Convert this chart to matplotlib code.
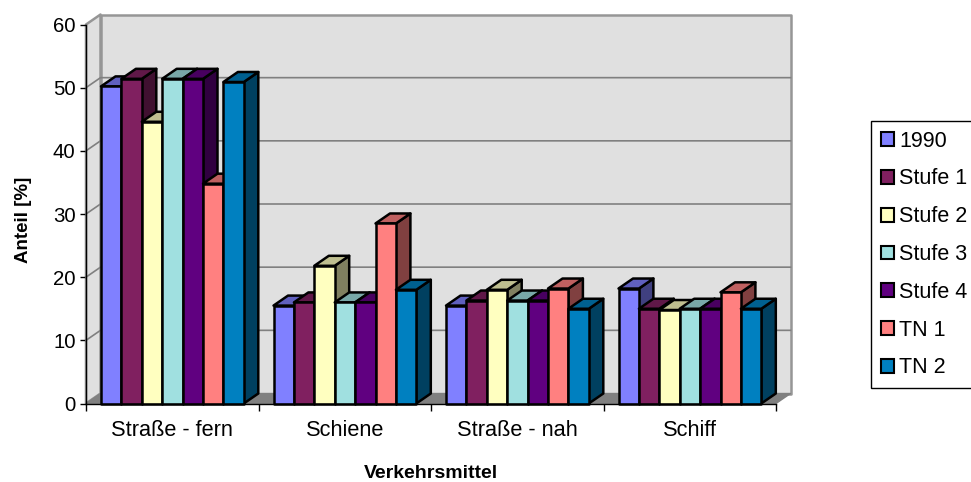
import matplotlib
matplotlib.use('Agg')
from matplotlib import pyplot as plt
from matplotlib.patches import Polygon, Patch
from matplotlib.colors import to_rgb

plt.rcParams['font.family'] = ['Liberation Sans', 'DejaVu Sans']

# Data
categories = ['Straße - fern', 'Schiene', 'Straße - nah', 'Schiff']
series = ['1990', 'Stufe 1', 'Stufe 2', 'Stufe 3', 'Stufe 4', 'TN 1', 'TN 2']
strasse_fern = [50.2, 51.4, 44.6, 51.4, 51.4, 34.8, 50.9]
schiene = [15.5, 16.0, 21.8, 16.0, 16.0, 28.5, 18.0]
strasse_nah = [15.5, 16.3, 18.0, 16.3, 16.3, 18.2, 15.0]
schiff = [18.2, 15.0, 14.8, 15.0, 15.0, 17.6, 15.0]
colors = ['#8080FF', '#802060', '#FFFFC0', '#A0E0E0', '#600080', '#FF8080', '#0080C0']

W, H = 971, 482
fig = plt.figure(figsize=(W/100, H/100), dpi=100)
ax = fig.add_axes([86/W, 1-403.5/H, 690/W, 379/H])
ax.set_xlim(0, 4)
ax.set_ylim(0, 60)

# depth of the 3D effect in data units (about 15 px right, 10 px up)
dx = 14.5*4/690
dy = 10*60/379


def shade(c, f):
    r, g, b = to_rgb(c)
    return (r*f, g*f, b*f)


def face(pts, fc, ec='black', lw=1.8, z=3):
    ax.add_patch(Polygon(pts, closed=True, fc=fc, ec=ec, lw=lw, zorder=z,
                         clip_on=False, joinstyle='round'))


# walls and floor
wall = '#E0E0E0'
edge = '#808080'
border = '#969696'
face([(0, 0), (dx, dy), (dx, 60+dy), (0, 60)], wall, border, 1.8, 1)
face([(dx, dy), (4+dx, dy), (4+dx, 60+dy), (dx, 60+dy)], wall, border, 1.8, 1)
face([(0, 0), (4, 0), (4+dx, dy), (dx, dy)], edge, edge, 1.0, 1)

# gridlines on the back and side walls
for v in range(10, 60, 10):
    ax.plot([0, dx, 4+dx], [v, v+dy, v+dy], color=edge, lw=1.2, zorder=2, clip_on=False)

# bars
bar_w = 20.4*4/690
gap = 15*4/690
for i, vals in enumerate([strasse_fern, schiene, strasse_nah, schiff]):
    for j, v in enumerate(vals):
        x0 = i + gap + j*bar_w
        x1 = x0 + bar_w
        c = colors[j]
        face([(x1, 0), (x1+dx, dy), (x1+dx, v+dy), (x1, v)], shade(c, 0.5))
        face([(x0, v), (x0+dx, v+dy), (x1+dx, v+dy), (x1, v)], shade(c, 0.75))
        face([(x0, 0), (x1, 0), (x1, v), (x0, v)], c)

# axes
for s in ['top', 'right']:
    ax.spines[s].set_visible(False)
for s in ['left', 'bottom']:
    ax.spines[s].set_zorder(6)
    ax.spines[s].set_linewidth(1.0)
ax.set_yticks(range(0, 70, 10))
ax.set_xticks(range(5))
ax.set_xticklabels([])
ax.set_xticks([0.5, 1.5, 2.5, 3.5], categories, minor=True)
ax.tick_params(axis='x', which='minor', length=0, labelsize=15.7, pad=12)
ax.tick_params(axis='x', which='major', length=5, width=1.0)
ax.tick_params(axis='y', length=4.5, width=1.0, labelsize=14.7, pad=3)

fig.text(24/W, 1-220/H, 'Anteil [%]', rotation=90, fontsize=13.5, fontweight='bold',
         ha='center', va='center')
fig.text(431/W, 1-473/H, 'Verkehrsmittel', fontsize=14, fontweight='bold',
         ha='center', va='center')

# legend box
handles = [Patch(fc=c, ec='black', lw=1.5) for c in colors]
leg = fig.legend(handles, series, loc='upper left', bbox_to_anchor=(871/W, 1-121/H),
                 fontsize=15.5, frameon=True, fancybox=False, edgecolor='black',
                 framealpha=1, handlelength=0.6, handleheight=0.6, handletextpad=0.25,
                 labelspacing=0.78, borderpad=0.45, borderaxespad=0)
leg.get_frame().set_linewidth(1.0)

fig.savefig('out.png', dpi=100)
